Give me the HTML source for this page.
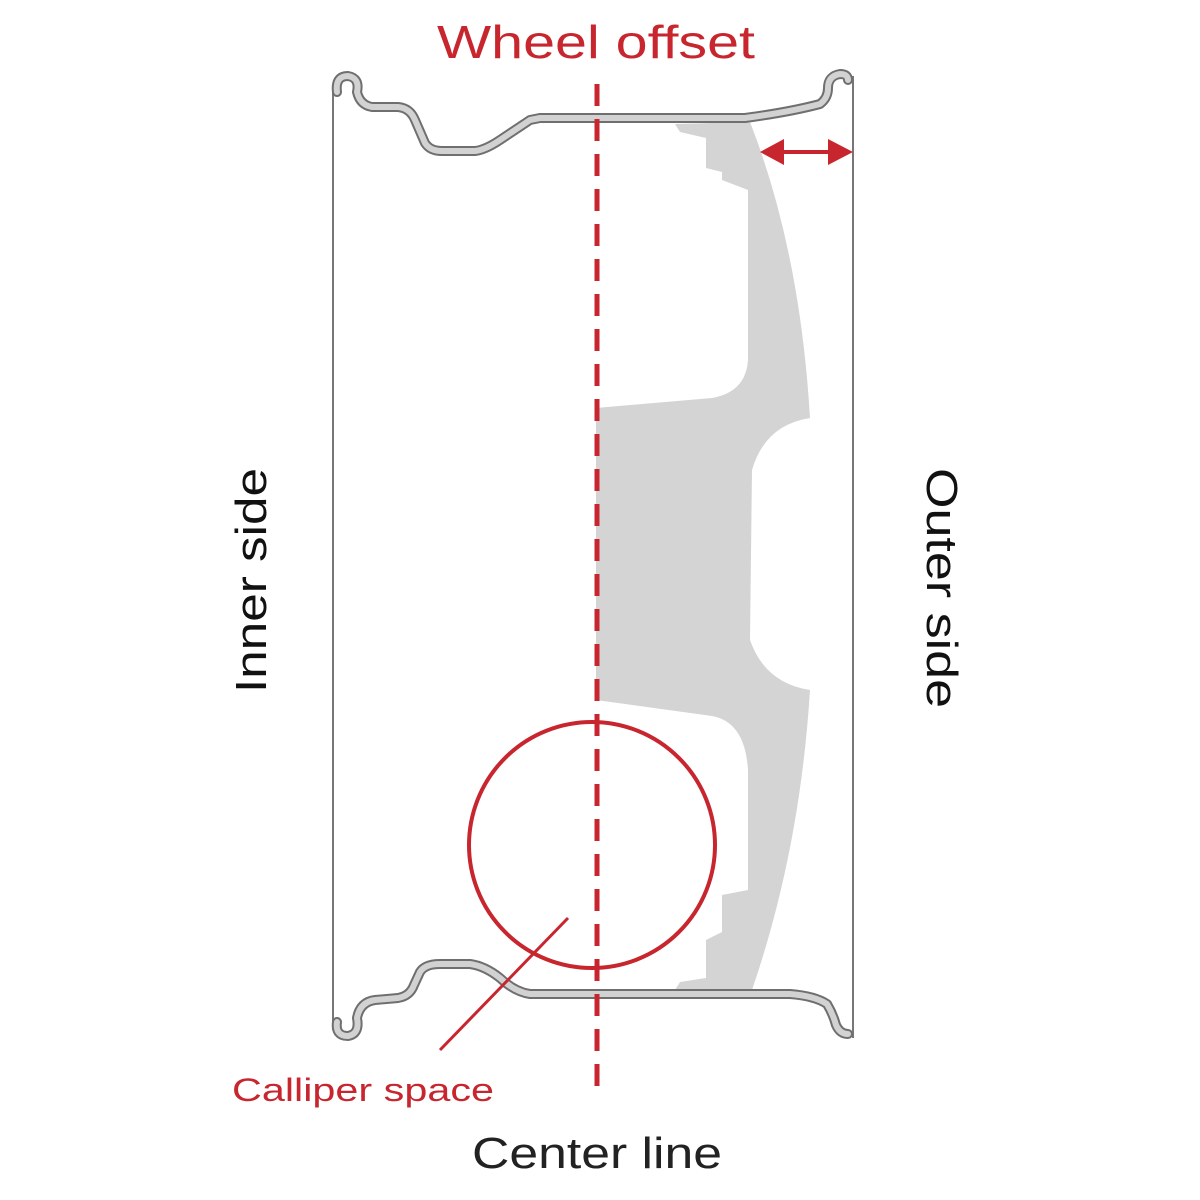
<!DOCTYPE html>
<html><head><style>body{margin:0;background:#fff}svg{display:block}</style></head><body>
<svg width="1200" height="1200" viewBox="0 0 1200 1200" xmlns="http://www.w3.org/2000/svg" font-family="Liberation Sans, sans-serif">
<rect width="1200" height="1200" fill="#fff"/>
<path d="M675,124 L750,122 Q800,250 810,418 Q765,425 752,470 L750,640 Q765,683 810,690 Q800,850 752,990 L675,990 L680,982 L706,978 L706,940 L722,932 L722,895 L748,890 L748,770 Q745,722 712,716 L596,700 L596,408 L712,398 Q746,392 748,360 L748,190 L722,180 L722,172 L706,168 L706,138 L680,132 Z" fill="#d4d4d4"/>
<line x1="333" y1="88" x2="333" y2="1030" stroke="#777" stroke-width="2"/>
<line x1="853" y1="76" x2="853" y2="1038" stroke="#777" stroke-width="2"/>
<g fill="none" stroke-linejoin="round" stroke-linecap="round">
<path d="M337,92 Q335,76 348,76 Q360,78 357,92 Q360,105 372,107 L398,107 Q410,108 415,120 L425,143 Q430,151 442,151 L475,151 Q485,150 500,140 Q515,130 530,120 L540,118 L745,118 Q790,112 820,104 Q828,98 828,88 Q828,76 840,74 Q848,74 848,80" stroke="#6f6f6f" stroke-width="10"/>
<path d="M337,92 Q335,76 348,76 Q360,78 357,92 Q360,105 372,107 L398,107 Q410,108 415,120 L425,143 Q430,151 442,151 L475,151 Q485,150 500,140 Q515,130 530,120 L540,118 L745,118 Q790,112 820,104 Q828,98 828,88 Q828,76 840,74 Q848,74 848,80" stroke="#d2d2d2" stroke-width="6"/>
<path d="M337,1022 Q335,1036 348,1036 Q360,1034 357,1018 Q360,1002 375,1000 L398,998 Q410,996 414,985 L420,972 Q425,964 440,964 L470,964 Q485,966 500,978 Q515,992 530,994 L790,994 Q815,996 827,1004 Q833,1014 836,1025 Q840,1034 848,1034" stroke="#6f6f6f" stroke-width="10"/>
<path d="M337,1022 Q335,1036 348,1036 Q360,1034 357,1018 Q360,1002 375,1000 L398,998 Q410,996 414,985 L420,972 Q425,964 440,964 L470,964 Q485,966 500,978 Q515,992 530,994 L790,994 Q815,996 827,1004 Q833,1014 836,1025 Q840,1034 848,1034" stroke="#d2d2d2" stroke-width="6"/>
</g>
<line x1="597" y1="84" x2="597" y2="1090" stroke="#c8262e" stroke-width="5" stroke-dasharray="22,13"/>
<circle cx="592" cy="845" r="123" fill="none" stroke="#c8262e" stroke-width="4"/>
<line x1="440" y1="1050" x2="568" y2="918" stroke="#c8262e" stroke-width="3"/>
<line x1="780" y1="152" x2="832" y2="152" stroke="#c8262e" stroke-width="4"/>
<polygon points="760,152 784,139 784,165" fill="#c8262e"/>
<polygon points="853,152 828,139 828,165" fill="#c8262e"/>
<text x="437" y="58" font-size="46" fill="#c8262e" textLength="318" lengthAdjust="spacingAndGlyphs">Wheel offset</text>
<text x="232" y="1101" font-size="32" fill="#c8262e" textLength="262" lengthAdjust="spacingAndGlyphs">Calliper space</text>
<text x="472" y="1168" font-size="44" fill="#222" textLength="250" lengthAdjust="spacingAndGlyphs">Center line</text>
<text transform="translate(266,693) rotate(-90)" font-size="44" fill="#111" textLength="225" lengthAdjust="spacingAndGlyphs">Inner side</text>
<text transform="translate(927,468) rotate(90)" font-size="44" fill="#111" textLength="240" lengthAdjust="spacingAndGlyphs">Outer side</text>
</svg>
</body></html>
